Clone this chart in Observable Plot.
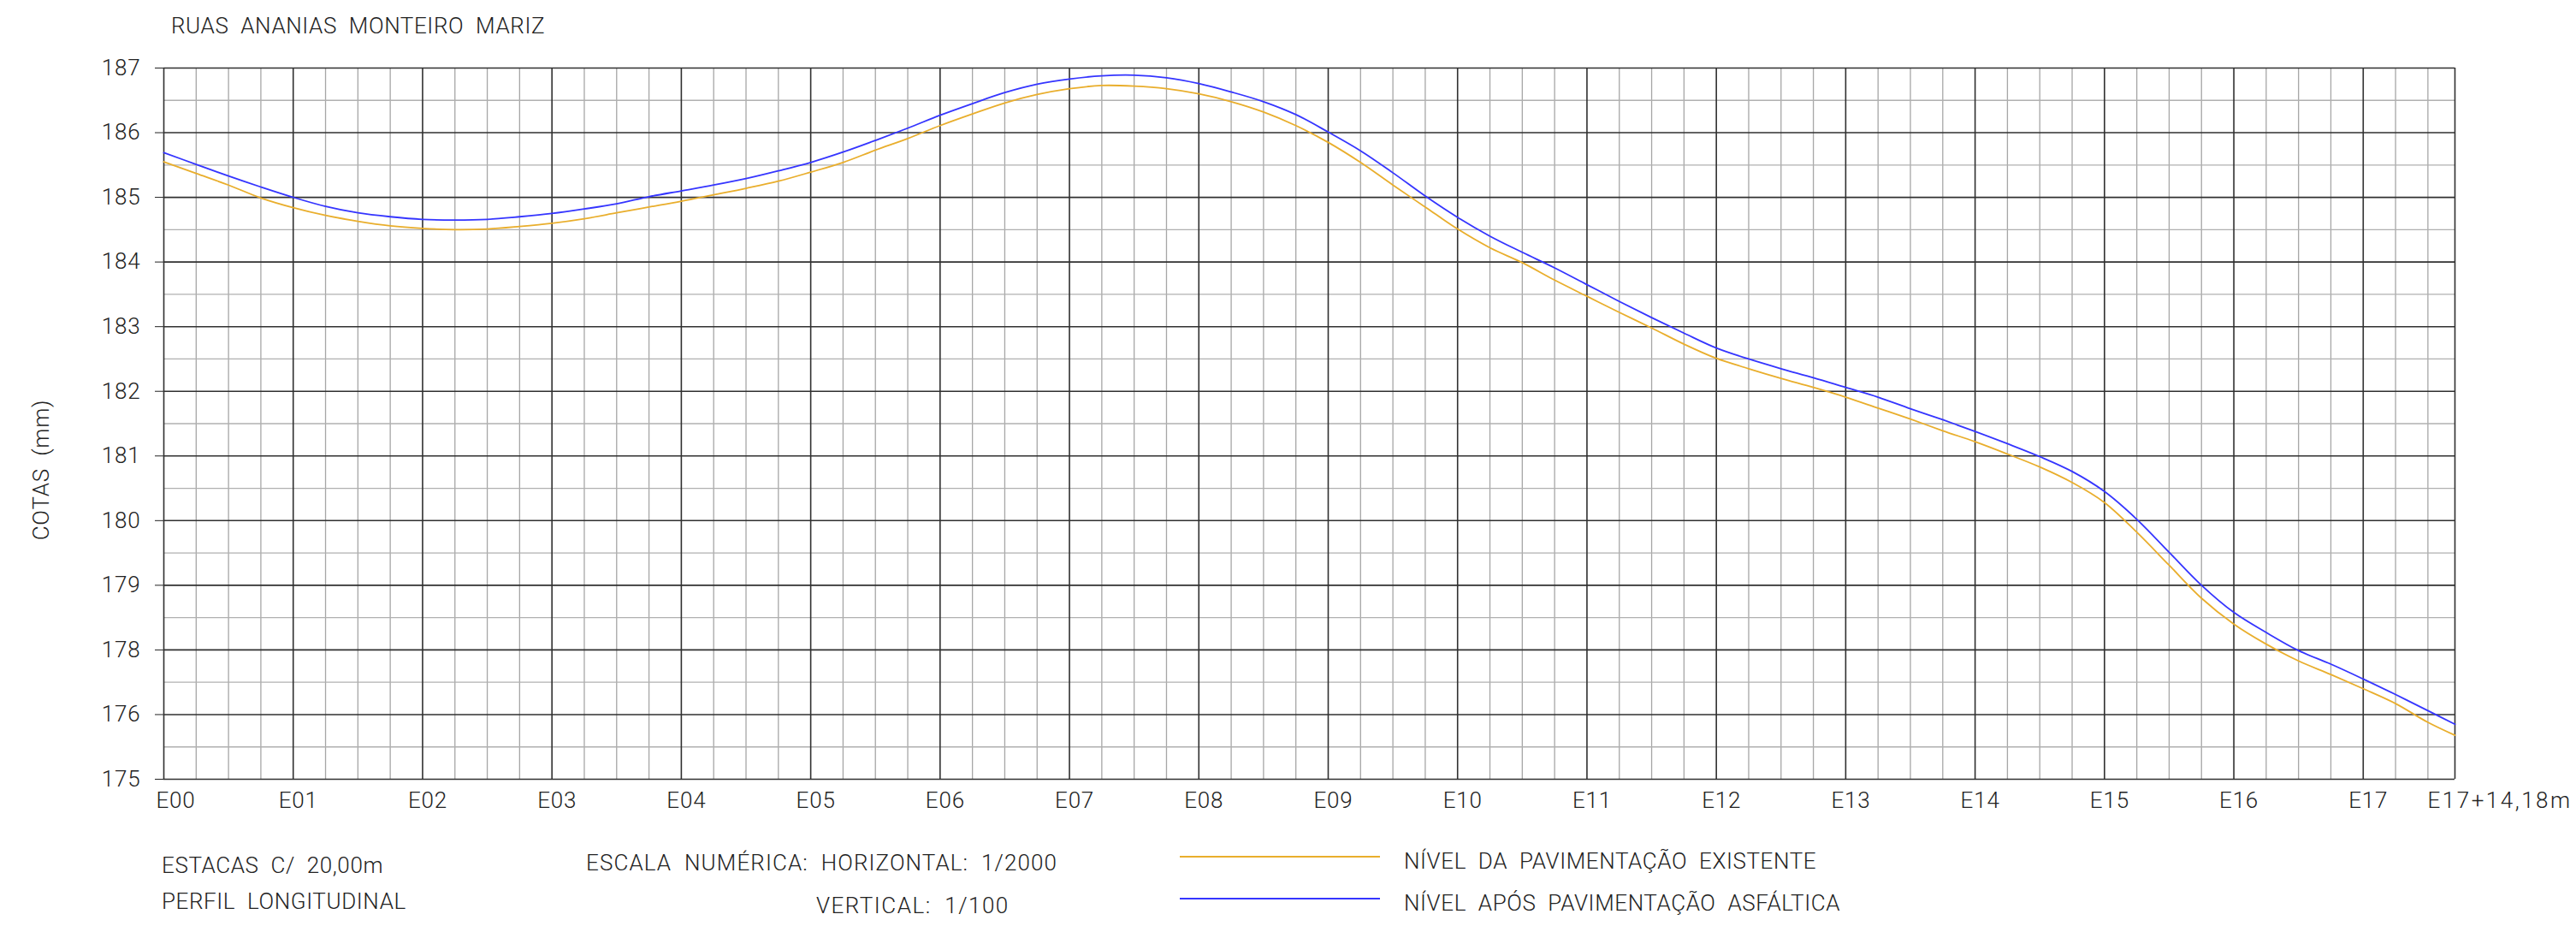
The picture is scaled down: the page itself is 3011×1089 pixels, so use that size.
<!DOCTYPE html>
<html>
<head>
<meta charset="utf-8">
<script src="https://cdn.jsdelivr.net/npm/d3@7"></script>
<script src="https://cdn.jsdelivr.net/npm/@observablehq/plot@0.6"></script>
<style>
  html, body { margin: 0; padding: 0; background: #fff; }
  #wrap { position: relative; width: 3011px; height: 1089px; overflow: hidden; background: #fff;
          font-family: "Roboto", "Liberation Sans", sans-serif; font-weight: 300; color: #222; }
  #chart { position: absolute; left: 0; top: 0; }
  .t { position: absolute; white-space: pre; font-size: 26px; line-height: 26px; transform: translateY(-50%); letter-spacing: 0.6px; }
  .lg { position: absolute; height: 0; border-top-style: solid; border-top-width: 2.5px; }
</style>
</head>
<body>
<div id="wrap">
  <div id="chart"></div>
  <div class="t" id="title" style="left:200px; top:30px;"></div>
  <div class="t" id="n1" style="left:189px; top:1011px;"></div>
  <div class="t" id="n2" style="left:189px; top:1053px;"></div>
  <div class="t" id="n3" style="left:685px; top:1008px; letter-spacing:1.1px;"></div>
  <div class="t" id="n4" style="left:954px; top:1058px; letter-spacing:1.5px;"></div>
  <div class="lg" id="l1" style="left:1379px; top:1000px; width:234px;"></div>
  <div class="lg" id="l2" style="left:1379px; top:1049px; width:234px;"></div>
  <div class="t" id="t1" style="left:1641px; top:1006px;"></div>
  <div class="t" id="t2" style="left:1641px; top:1055px;"></div>
</div>
<script>
// ---------- DATA ----------
const titleText = "RUAS  ANANIAS  MONTEIRO  MARIZ";
const noteTexts = ["ESTACAS  C/  20,00m", "PERFIL  LONGITUDINAL", "ESCALA  NUMÉRICA:  HORIZONTAL:  1/2000", "VERTICAL:  1/100"];
const seriesNames = ["NÍVEL  DA  PAVIMENTAÇÃO  EXISTENTE", "NÍVEL  APÓS  PAVIMENTAÇÃO  ASFÁLTICA"];
const seriesColors = ["#E9AE2C", "#3535FF"];
const yAxisTitle = "COTAS  (mm)";

// station labels and their chainage (m)
const stationLabels = ["E00","E01","E02","E03","E04","E05","E06","E07","E08","E09","E10","E11","E12","E13","E14","E15","E16","E17","E17+14,18m"];
const stationChainage = [0,20,40,60,80,100,120,140,160,180,200,220,240,260,280,300,320,340,354.18];

// y grid (the drawing skips "177": labels as printed)
const yTickValues = [187,186,185,184,183,182,181,180,179,178,177,176];
const yTickLabels = ["187","186","185","184","183","182","181","180","179","178","176","175"];

// chainage of readings (m)
const chainage = [0,5,10,15,20,25,30,35,40,45,50,55,60,65,70,75,80,85,90,95,100,105,110,115,120,125,130,135,140,145,150,155,160,165,170,175,180,185,190,195,200,205,210,215,220,225,230,235,240,245,250,255,260,265,270,275,280,285,290,295,300,305,310,315,320,325,330,335,340,345,350,354.18];
// existing pavement level
const existing = [185.55,185.37,185.19,184.99,184.84,184.72,184.63,184.56,184.52,184.50,184.51,184.55,184.60,184.67,184.76,184.85,184.94,185.04,185.14,185.25,185.39,185.54,185.73,185.91,186.11,186.29,186.46,186.59,186.68,186.73,186.72,186.68,186.60,186.48,186.32,186.11,185.85,185.54,185.19,184.85,184.51,184.22,183.99,183.72,183.47,183.22,182.98,182.73,182.51,182.35,182.20,182.06,181.91,181.74,181.57,181.39,181.22,181.03,180.83,180.59,180.28,179.82,179.31,178.80,178.40,178.09,177.83,177.62,177.40,177.17,176.88,176.68];
// level after asphalt paving
const after = [185.69,185.51,185.33,185.16,185.00,184.86,184.76,184.70,184.66,184.65,184.66,184.70,184.75,184.82,184.90,185.01,185.10,185.19,185.29,185.41,185.54,185.70,185.88,186.07,186.27,186.45,186.62,186.75,186.83,186.88,186.89,186.85,186.76,186.63,186.48,186.28,186.01,185.72,185.38,185.02,184.69,184.40,184.15,183.91,183.65,183.39,183.14,182.90,182.67,182.50,182.35,182.21,182.06,181.91,181.73,181.56,181.38,181.19,180.99,180.76,180.45,180.02,179.51,179.00,178.58,178.27,177.99,177.78,177.55,177.31,177.06,176.85];

// ---------- BUILD ----------
const profile = chainage.map((m, i) => ({m, existing: existing[i], after: after[i]}));
const xMax = stationChainage[stationChainage.length - 1];
const minorX = d3.range(0, xMax, 5).filter(v => v % 20 !== 0);
const minorY = d3.range(yTickValues[yTickValues.length - 1] + 0.5, yTickValues[0], 1);
const stations = stationLabels.map((label, i) => ({label, m: stationChainage[i]}));
const font = "Roboto, 'Liberation Sans', sans-serif";

const chart = Plot.plot({
  width: 3011,
  height: 960,
  marginTop: 79,
  marginLeft: 191,
  marginRight: 142,
  marginBottom: 50,
  style: {fontFamily: font, fontSize: "26px", fontWeight: 300, color: "#222", background: "white", overflow: "visible"},
  x: {domain: [0, xMax], axis: null},
  y: {
    domain: [yTickValues[yTickValues.length - 1], yTickValues[0]],
    ticks: yTickValues,
    tickFormat: d => yTickLabels[yTickValues.indexOf(d)],
    tickSize: 10,
    tickPadding: 17,
    label: null
  },
  marks: [
    Plot.ruleX(minorX, {stroke: "#a6a6a6", strokeWidth: 1.3}),
    Plot.ruleY(minorY, {stroke: "#b0b0b0", strokeWidth: 1.3}),
    Plot.ruleX(stationChainage, {stroke: "#303030", strokeWidth: 1.6}),
    Plot.ruleY(yTickValues, {stroke: "#303030", strokeWidth: 1.6}),
    Plot.line(profile, {x: "m", y: "existing", stroke: seriesColors[0], strokeWidth: 1.8, curve: "catmull-rom"}),
    Plot.line(profile, {x: "m", y: "after", stroke: seriesColors[1], strokeWidth: 1.8, curve: "catmull-rom"}),
    Plot.text(stations.slice(0, 1), {x: "m", text: "label", frameAnchor: "bottom", dy: 25, dx: -9, textAnchor: "start", lineAnchor: "middle", fill: "#222"}),
    Plot.text(stations.slice(1, -1), {x: "m", text: "label", frameAnchor: "bottom", dy: 25, dx: 6, textAnchor: "middle", lineAnchor: "middle", fill: "#222"}),
    Plot.text(stations.slice(-1), {x: "m", text: "label", frameAnchor: "bottom", dy: 25, dx: -32, textAnchor: "start", lineAnchor: "middle", fill: "#222", className: "endlabel"}),
    Plot.text([yAxisTitle], {frameAnchor: "left", dx: -143, dy: 54, rotate: -90, textAnchor: "middle", lineAnchor: "middle", fill: "#222"})
  ]
});
d3.select(chart).selectAll(".endlabel text").style("letter-spacing", "2.5px");
d3.select(chart).selectAll("text").style("letter-spacing", function() { return this.style.letterSpacing || "0.8px"; });
document.getElementById("chart").appendChild(chart);

document.getElementById("title").textContent = titleText;
["n1","n2","n3","n4"].forEach((id, i) => document.getElementById(id).textContent = noteTexts[i]);
document.getElementById("t1").textContent = seriesNames[0];
document.getElementById("t2").textContent = seriesNames[1];
document.getElementById("l1").style.borderTopColor = seriesColors[0];
document.getElementById("l2").style.borderTopColor = seriesColors[1];
</script>
</body>
</html>
